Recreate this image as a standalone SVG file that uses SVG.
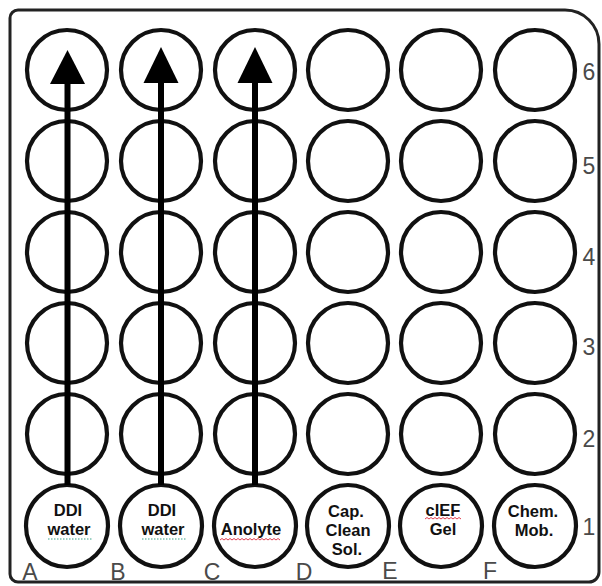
<svg xmlns="http://www.w3.org/2000/svg" width="602" height="586" viewBox="0 0 602 586">
<defs>
<style>
.well{fill:#fff;stroke:#111;stroke-width:4.2}
.lbl{font-family:"Liberation Sans",Arial,sans-serif;font-weight:bold;font-size:16.5px;fill:#111;text-anchor:middle}
.axis{font-family:"Liberation Sans",Arial,sans-serif;font-size:23px;fill:#4a4a4a;text-anchor:middle}
.arr{stroke:#000;stroke-width:6;fill:none}
.head{fill:#000}
.sq-g{stroke:#3aa38a;stroke-width:1.2;stroke-dasharray:1.5 1.5;fill:none}
.sq-r{stroke:#e04050;stroke-width:1;fill:none}
</style>
</defs>
<rect width="602" height="586" fill="#fff"/>
<path id="plate" d="M18,10 H565 A34,34 0 0 1 599,44 V572 A10,10 0 0 1 589,582 H18 A8,8 0 0 1 10,574 V18 A8,8 0 0 1 18,10 Z" fill="none" stroke="#222" stroke-width="3"/>

<g id="wells">
<g id="A6"><circle class="well" cx="67" cy="70" r="40"/></g>
<g id="B6"><circle class="well" cx="161" cy="70" r="40"/></g>
<g id="C6"><circle class="well" cx="255" cy="70" r="40"/></g>
<g id="D6"><circle class="well" cx="348" cy="70" r="40"/></g>
<g id="E6"><circle class="well" cx="441" cy="70" r="40"/></g>
<g id="F6"><circle class="well" cx="535" cy="70" r="40"/></g>

<g id="A5"><circle class="well" cx="67" cy="161" r="40"/></g>
<g id="B5"><circle class="well" cx="161" cy="161" r="40"/></g>
<g id="C5"><circle class="well" cx="255" cy="161" r="40"/></g>
<g id="D5"><circle class="well" cx="348" cy="161" r="40"/></g>
<g id="E5"><circle class="well" cx="441" cy="161" r="40"/></g>
<g id="F5"><circle class="well" cx="535" cy="161" r="40"/></g>

<g id="A4"><circle class="well" cx="67" cy="252" r="40"/></g>
<g id="B4"><circle class="well" cx="161" cy="252" r="40"/></g>
<g id="C4"><circle class="well" cx="255" cy="252" r="40"/></g>
<g id="D4"><circle class="well" cx="348" cy="252" r="40"/></g>
<g id="E4"><circle class="well" cx="441" cy="252" r="40"/></g>
<g id="F4"><circle class="well" cx="535" cy="252" r="40"/></g>

<g id="A3"><circle class="well" cx="67" cy="343" r="40"/></g>
<g id="B3"><circle class="well" cx="161" cy="343" r="40"/></g>
<g id="C3"><circle class="well" cx="255" cy="343" r="40"/></g>
<g id="D3"><circle class="well" cx="348" cy="343" r="40"/></g>
<g id="E3"><circle class="well" cx="441" cy="343" r="40"/></g>
<g id="F3"><circle class="well" cx="535" cy="343" r="40"/></g>

<g id="A2"><circle class="well" cx="67" cy="434" r="40"/></g>
<g id="B2"><circle class="well" cx="161" cy="434" r="40"/></g>
<g id="C2"><circle class="well" cx="255" cy="434" r="40"/></g>
<g id="D2"><circle class="well" cx="348" cy="434" r="40"/></g>
<g id="E2"><circle class="well" cx="441" cy="434" r="40"/></g>
<g id="F2"><circle class="well" cx="535" cy="434" r="40"/></g>

<g id="A1"><circle class="well" cx="67" cy="526" r="41"/>
<text class="lbl" x="68" y="516">DDI</text><text class="lbl" x="69" y="535">water</text>
<path class="sq-g" d="M48,539 H93"/></g>
<g id="B1"><circle class="well" cx="161" cy="526" r="41"/>
<text class="lbl" x="162" y="516">DDI</text><text class="lbl" x="163" y="535">water</text>
<path class="sq-g" d="M142,539 H187"/></g>
<g id="C1"><circle class="well" cx="255" cy="526" r="41"/>
<text class="lbl" x="251" y="535">Anolyte</text>
<path class="sq-r" d="M220,540 l2,-1.5 l2,1.5 l2,-1.5 l2,1.5 l2,-1.5 l2,1.5 l2,-1.5 l2,1.5 l2,-1.5 l2,1.5 l2,-1.5 l2,1.5 l2,-1.5 l2,1.5 l2,-1.5 l2,1.5 l2,-1.5 l2,1.5 l2,-1.5 l2,1.5 l2,-1.5 l2,1.5 l2,-1.5 l2,1.5 l2,-1.5 l2,1.5 l2,-1.5 l2,1.5 l2,-1.5 l2,1.5"/></g>
<g id="D1"><circle class="well" cx="348" cy="526" r="41"/>
<text class="lbl" x="346" y="517">Cap.</text><text class="lbl" x="348" y="536">Clean</text><text class="lbl" x="347" y="555">Sol.</text></g>
<g id="E1"><circle class="well" cx="441" cy="526" r="41"/>
<text class="lbl" x="443" y="516">cIEF</text><text class="lbl" x="443" y="535">Gel</text>
<path class="sq-r" d="M425,519 l2,-1.5 l2,1.5 l2,-1.5 l2,1.5 l2,-1.5 l2,1.5 l2,-1.5 l2,1.5 l2,-1.5 l2,1.5 l2,-1.5 l2,1.5 l2,-1.5 l2,1.5 l2,-1.5 l2,1.5 l2,-1.5 l2,1.5"/></g>
<g id="F1"><circle class="well" cx="535" cy="526" r="41"/>
<text class="lbl" x="533" y="517">Chem.</text><text class="lbl" x="534" y="536">Mob.</text></g>
</g>

<g id="connectors">
<line class="arr" x1="67.5" y1="485" x2="67.5" y2="80"/>
<polygon class="head" points="67.5,50 50,84 85,84"/>
<line class="arr" x1="161" y1="485" x2="161" y2="80"/>
<polygon class="head" points="161,47 143.5,83 178.5,83"/>
<line class="arr" x1="255" y1="485" x2="255" y2="80"/>
<polygon class="head" points="255,47 237.5,83 272.5,83"/>
</g>

<g id="axis-labels">
<text class="axis" x="30" y="580">A</text>
<text class="axis" x="118" y="580">B</text>
<text class="axis" x="212" y="580">C</text>
<text class="axis" x="304" y="580">D</text>
<text class="axis" x="390" y="579">E</text>
<text class="axis" x="490" y="579">F</text>
<text class="axis" x="589" y="80">6</text>
<text class="axis" x="589" y="174">5</text>
<text class="axis" x="589" y="265">4</text>
<text class="axis" x="589" y="355">3</text>
<text class="axis" x="589" y="447">2</text>
<text class="axis" x="589" y="535">1</text>
</g>
</svg>
